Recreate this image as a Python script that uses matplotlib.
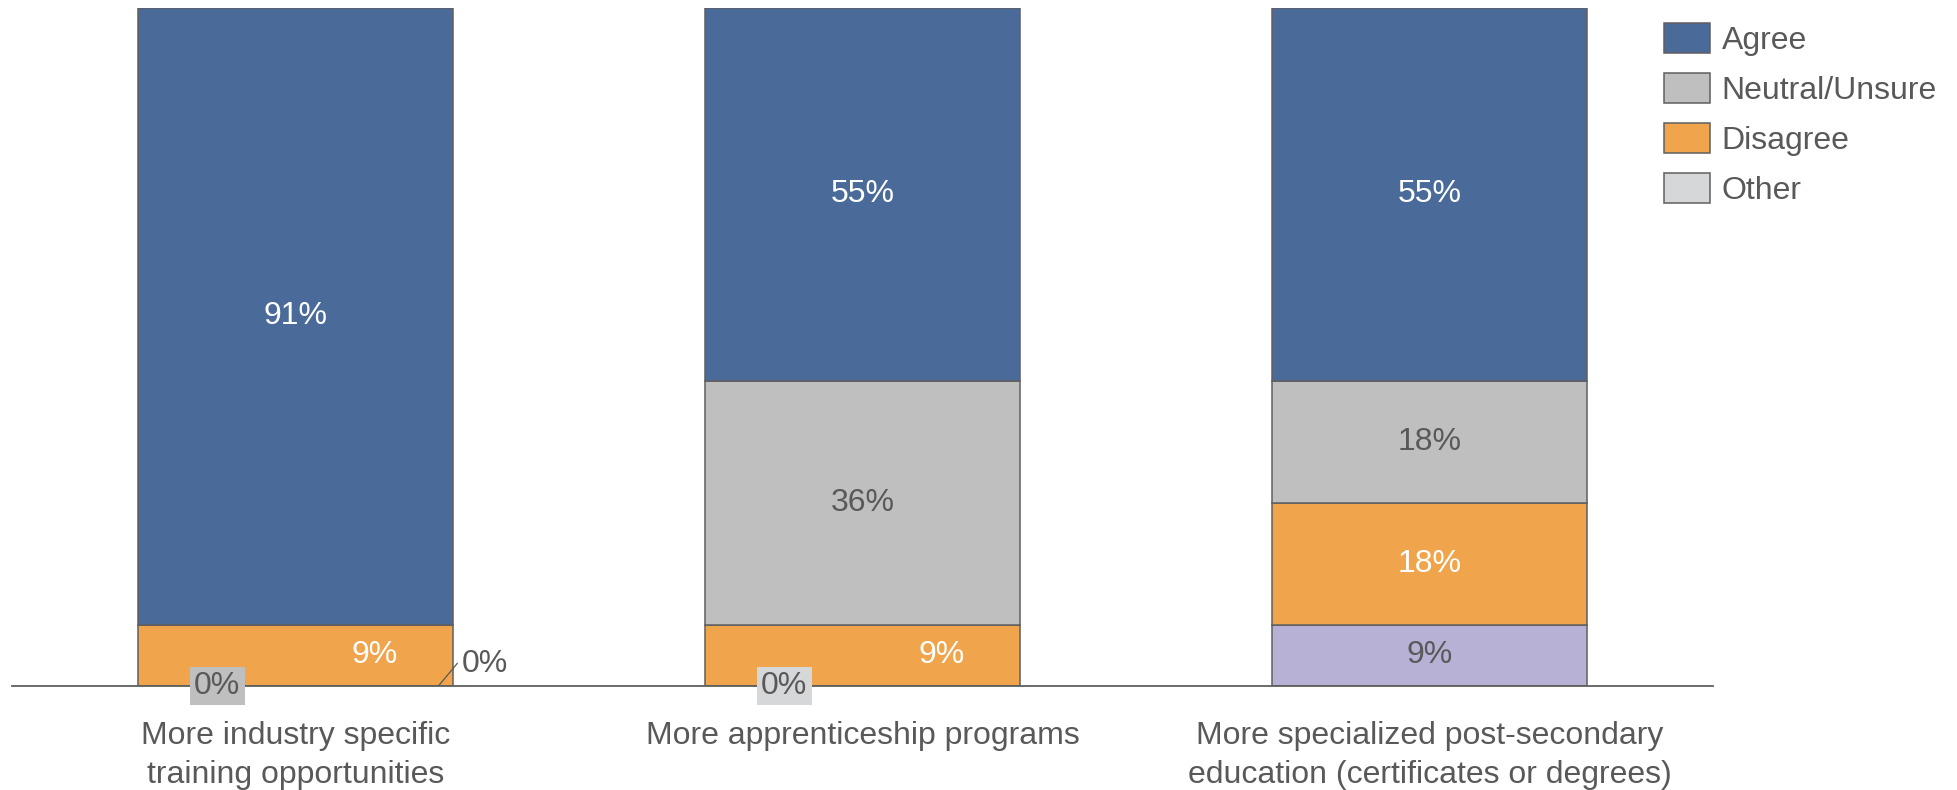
import matplotlib
matplotlib.use("Agg")
import matplotlib.pyplot as plt
from matplotlib.patches import Patch
import numpy as np

plt.rcParams['font.family'] = ['Liberation Sans', 'DejaVu Sans']

categories = [
    "More industry specific\ntraining opportunities",
    "More apprenticeship programs",
    "More specialized post-secondary\neducation (certificates or degrees)",
]
series_names = ["Agree", "Neutral/Unsure", "Disagree", "Other"]
agree = [91, 55, 55]
neutral = [0, 36, 18]
disagree = [9, 9, 18]
other = [0, 0, 9]

TEXT = "#595959"
EDGE = "#5f5f5f"
C_AGREE = "#4a6b9a"
C_NEUTRAL = "#bfbfbf"
C_DISAGREE = "#f0a44b"
C_OTHER = "#d6d7d9"
C_OTHER_BAR = "#b7b1d6"

fig = plt.figure(figsize=(19.57, 7.9), dpi=100)
ax = fig.add_axes([12 / 1957, 104 / 790, 1701 / 1957, 678 / 790])

x = np.arange(len(categories))
w = 0.557
lw = 1.1
fs = 23

other_a = np.array(other)
dis_a = np.array(disagree)
neu_a = np.array(neutral)
agr_a = np.array(agree)

ax.bar(x, other_a, w, color=C_OTHER_BAR, edgecolor=EDGE, linewidth=lw)
ax.bar(x, dis_a, w, bottom=other_a, color=C_DISAGREE, edgecolor=EDGE, linewidth=lw)
ax.bar(x, neu_a, w, bottom=other_a + dis_a, color=C_NEUTRAL, edgecolor=EDGE, linewidth=lw)
ax.bar(x, agr_a, w, bottom=other_a + dis_a + neu_a, color=C_AGREE, edgecolor=EDGE, linewidth=lw)

for i in range(len(categories)):
    has_zero = neutral[i] == 0 or other[i] == 0
    # Agree
    ax.text(x[i], other[i] + disagree[i] + neutral[i] + agree[i] / 2, f"{agree[i]}%",
            ha="center", va="center", color="white", fontsize=fs)
    # Neutral
    if neutral[i] > 0:
        ax.text(x[i], other[i] + disagree[i] + neutral[i] / 2, f"{neutral[i]}%",
                ha="center", va="center", color=TEXT, fontsize=fs)
    # Disagree
    dx = 0.14 if has_zero else 0.0
    ax.text(x[i] + dx, other[i] + disagree[i] / 2, f"{disagree[i]}%",
            ha="center", va="center", color="white", fontsize=fs)
    # Other
    if other[i] > 0:
        ax.text(x[i], other[i] / 2, f"{other[i]}%",
                ha="center", va="center", color=TEXT, fontsize=fs)

    # zero-valued segments
    zeros = []
    if neutral[i] == 0:
        zeros.append((neutral[i], C_NEUTRAL))
    if other[i] == 0:
        zeros.append((other[i], C_OTHER))
    for k, (val, col) in enumerate(zeros):
        if k == 0:
            ax.text(x[i] - 0.138, 0, f"{val}%", ha="center", va="center", color=TEXT,
                    fontsize=fs, zorder=5,
                    bbox=dict(boxstyle="square,pad=0.14", facecolor=col, edgecolor="none"))
        else:
            ax.plot([x[i] + 0.252, x[i] + 0.286], [0, 3.4], color=TEXT, lw=0.9,
                    solid_capstyle="butt", zorder=5)
            ax.text(x[i] + 0.294, 3.2, f"{val}%", ha="left", va="center",
                    color=TEXT, fontsize=fs)

ax.set_xlim(-0.5, 2.5)
ax.set_ylim(0, 100)
ax.set_yticks([])
ax.set_xticks(x)
ax.set_xticklabels(categories, fontsize=fs, color=TEXT, linespacing=1.4)
ax.tick_params(axis="x", length=0, pad=25)
for s in ["left", "right", "top"]:
    ax.spines[s].set_visible(False)
ax.spines["bottom"].set_color(EDGE)
ax.spines["bottom"].set_linewidth(1.3)
ax.set_facecolor("none")

handles = [
    Patch(facecolor=C_AGREE, edgecolor=EDGE, linewidth=lw),
    Patch(facecolor=C_NEUTRAL, edgecolor=EDGE, linewidth=lw),
    Patch(facecolor=C_DISAGREE, edgecolor=EDGE, linewidth=lw),
    Patch(facecolor=C_OTHER, edgecolor=EDGE, linewidth=lw),
]
leg = fig.legend(handles, series_names, loc="upper left",
                 bbox_to_anchor=(1664 / 1957, 1 - 23 / 790),
                 frameon=False, fontsize=fs, handlelength=1.45, handleheight=1.05,
                 handletextpad=0.36, labelspacing=0.54, borderaxespad=0, borderpad=0)
for t in leg.get_texts():
    t.set_color(TEXT)

fig.savefig("out.png", dpi=100)
